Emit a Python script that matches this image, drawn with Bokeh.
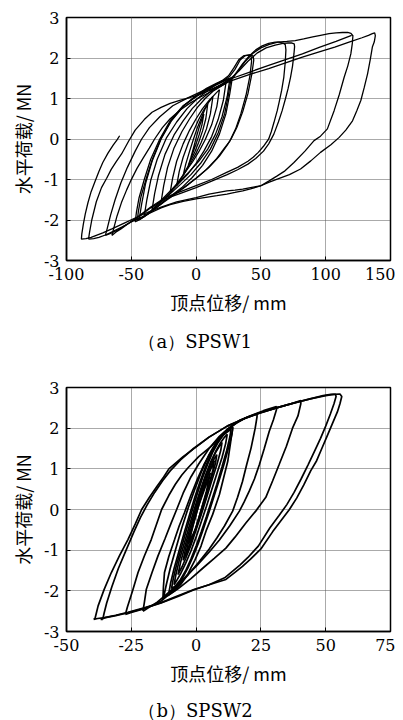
from bokeh.plotting import figure
from bokeh.models import Range1d, FixedTicker, PrintfTickFormatter
from bokeh.core.properties import value
from bokeh.layouts import column
from bokeh.embed import file_html
from bokeh.resources import INLINE

# ---------------- shared ----------------
Y_TICKS = [-3, -2, -1, 0, 1, 2, 3]
Y_LABEL = "水平荷载/ MN"
X_LABEL = "顶点位移/ mm"

# ---------------- (a) SPSW1 ----------------
A_X_TICKS = [-100, -50, 0, 50, 100, 150]
A_CAPTION = "（a）SPSW1"

A_L1_X = [-6, -4, -2, 0, 2, 4, 6, 4.5, 2.5, 0, -2, -4, -6]
A_L1_Y = [-0.65, -0.45, -0.22, 0.02, 0.25, 0.45, 0.62, 0.35, 0.12, -0.12, -0.3, -0.48, -0.65]
A_L2_X = [-10, -8, -5, -2, 1, 4, 7, 9, 7.5, 5, 2, -1, -4, -7, -10]
A_L2_Y = [-0.9, -0.62, -0.3, 0.0, 0.28, 0.52, 0.75, 0.87, 0.5, 0.2, -0.08, -0.32, -0.52, -0.72, -0.9]
A_L3_X = [-15, -13, -10, -6, -2, 2, 6, 10, 13, 11, 8, 4, 0, -4, -8, -12, -15]
A_L3_Y = [-1.15, -0.8, -0.45, -0.1, 0.2, 0.48, 0.72, 0.92, 1.05, 0.62, 0.25, -0.08, -0.35, -0.58, -0.8, -1.0, -1.15]
A_L4_X = [-20, -18, -15, -10, -5, 0, 5, 10, 15, 18, 16, 12, 7, 2, -3, -8, -13, -17, -20]
A_L4_Y = [-1.32, -0.95, -0.55, -0.12, 0.22, 0.5, 0.75, 0.95, 1.12, 1.22, 0.8, 0.35, -0.02, -0.32, -0.58, -0.8, -1.02, -1.2, -1.32]
A_L5_X = [-27, -25, -22, -17, -11, -5, 1, 7, 13, 19, 23, 21, 17, 12, 6, 0, -6, -12, -18, -23, -27]
A_L5_Y = [-1.55, -1.15, -0.7, -0.22, 0.18, 0.5, 0.78, 1.0, 1.18, 1.3, 1.38, 0.95, 0.48, 0.06, -0.3, -0.6, -0.85, -1.05, -1.25, -1.42, -1.55]
A_L6_X = [-34, -32, -29, -24, -17, -10, -3, 4, 11, 18, 23, 26, 24, 20, 15, 9, 2, -5, -12, -19, -26, -31, -34]
A_L6_Y = [-1.75, -1.35, -0.9, -0.38, 0.1, 0.45, 0.75, 0.98, 1.17, 1.32, 1.42, 1.47, 1.05, 0.55, 0.12, -0.25, -0.55, -0.8, -1.02, -1.25, -1.48, -1.65, -1.75]
A_L7_X = [-40, -38, -35, -30, -23, -15, -7, 1, 9, 16, 22, 27, 25, 22, 17, 11, 4, -4, -12, -20, -28, -35, -40]
A_L7_Y = [-1.9, -1.5, -1.02, -0.5, 0.02, 0.42, 0.75, 1.0, 1.2, 1.35, 1.45, 1.5, 1.1, 0.62, 0.15, -0.25, -0.58, -0.88, -1.12, -1.35, -1.58, -1.78, -1.9]
A_L7B_X = [-44, -42, -39, -34, -27, -19, -10, -1, 8, 16, 22, 28, 26, 23, 18, 12, 5, -3, -11, -20, -29, -37, -44]
A_L7B_Y = [-2.0, -1.6, -1.1, -0.55, 0.0, 0.45, 0.8, 1.05, 1.25, 1.38, 1.46, 1.52, 1.12, 0.62, 0.12, -0.3, -0.65, -0.95, -1.2, -1.42, -1.65, -1.85, -2.0]
A_L8A_X = [-47, -46, -44, -40, -35, -28, -20, -10, 0, 10, 20, 26, 30, 34, 38, 42, 44, 44.5, 43, 40, 36, 31.5, 27, 24, 18, 10, 2, -6, -15, -24, -32, -40, -47]
A_L8A_Y = [-2.05, -1.8, -1.45, -1.0, -0.5, 0.0, 0.45, 0.82, 1.05, 1.25, 1.42, 1.55, 1.72, 1.95, 2.06, 2.08, 2.05, 1.95, 1.6, 1.12, 0.68, 0.29, 0.0, -0.15, -0.42, -0.7, -0.92, -1.12, -1.32, -1.52, -1.72, -1.9, -2.05]
A_L8B_X = [-45.5, -44.5, -42.5, -38.5, -33.5, -27, -19, -9, 1, 11, 20, 25, 29, 33, 37, 41, 42.5, 42.8, 41.5, 38.5, 34.5, 30.5, 26, 22, 16, 8, 0, -8, -16, -25, -33, -40, -45.5]
A_L8B_Y = [-2.02, -1.78, -1.42, -0.98, -0.48, 0.02, 0.47, 0.84, 1.07, 1.27, 1.44, 1.56, 1.75, 1.96, 2.06, 2.07, 2.04, 1.92, 1.55, 1.08, 0.62, 0.25, -0.05, -0.22, -0.48, -0.75, -0.97, -1.17, -1.36, -1.56, -1.75, -1.92, -2.02]
A_L9A_X = [-65, -63.5, -61, -57.6, -53.5, -49.8, -45.5, -41, -36, -32, -26, -20, -12, -5, 3, 12, 20, 28, 32, 36, 41, 46, 51, 56, 61, 64, 67, 68.8, 69.3, 68.8, 67.7, 66, 64, 62.6, 60, 58, 56, 52, 48, 44, 40, 32, 24, 12, 0, -12, -24, -35, -45, -52, -58, -62, -65]
A_L9A_Y = [-2.38, -2.2, -1.9, -1.57, -1.25, -0.99, -0.72, -0.48, -0.22, 0.0, 0.28, 0.5, 0.72, 0.88, 1.03, 1.18, 1.32, 1.5, 1.68, 1.86, 2.05, 2.2, 2.3, 2.36, 2.39, 2.39, 2.37, 2.33, 2.2, 1.9, 1.53, 1.2, 0.9, 0.7, 0.4, 0.18, 0.0, -0.18, -0.33, -0.45, -0.55, -0.7, -0.82, -1.0, -1.15, -1.3, -1.45, -1.68, -1.92, -2.08, -2.22, -2.3, -2.38]
A_L9B_X = [-70, -68.5, -66, -62.5, -58, -53, -47, -42, -36, -28, -18, -6, 6, 17, 27, 33, 40, 47, 54, 61, 67, 71, 74, 75.7, 76, 75.5, 74.4, 72.9, 71, 69, 66.4, 63.5, 60, 56, 52, 46, 40, 32, 24, 12, 0, -12, -24, -35, -45, -53, -60, -66, -70]
A_L9B_Y = [-2.38, -2.2, -1.88, -1.5, -1.08, -0.7, -0.3, 0.0, 0.28, 0.55, 0.82, 1.02, 1.2, 1.36, 1.5, 1.68, 1.92, 2.12, 2.25, 2.32, 2.36, 2.37, 2.37, 2.35, 2.28, 2.1, 1.8, 1.53, 1.25, 1.0, 0.7, 0.42, 0.12, -0.12, -0.3, -0.48, -0.62, -0.76, -0.88, -1.04, -1.2, -1.34, -1.48, -1.7, -1.94, -2.1, -2.24, -2.33, -2.38]
A_L10A_X = [10, 20, 28, 33, 38, 44, 50, 56, 63, 70, 76.5, 83, 90, 96, 102.6, 108, 113, 117, 119.5, 121, 120.5, 119.4, 117, 114.3, 110.5, 106.5, 101.3, 96, 91, 84, 75.5, 68, 62.6, 56, 49.6, 42, 36, 30, 23.8, 16, 10, 0, -10, -20, -27, -35, -42, -50, -57, -64, -70, -75, -79, -83]
A_L10A_Y = [1.2, 1.35, 1.5, 1.7, 1.92, 2.12, 2.25, 2.33, 2.39, 2.41, 2.43, 2.47, 2.52, 2.56, 2.6, 2.62, 2.63, 2.63, 2.61, 2.55, 2.35, 2.1, 1.8, 1.53, 1.1, 0.7, 0.25, 0.07, -0.04, -0.3, -0.58, -0.8, -0.91, -1.04, -1.16, -1.23, -1.28, -1.32, -1.36, -1.4, -1.43, -1.48, -1.54, -1.62, -1.7, -1.82, -1.93, -2.05, -2.17, -2.28, -2.37, -2.43, -2.46, -2.47]
A_L10B_X = [-83, -82.2, -80.5, -77, -73, -69, -65.5, -61.5, -57.5, -52, -47, -40, -34, -27, -20, -12, -5, 3, 12, 20, 28, 42, 56, 69, 82, 95, 108, 120]
A_L10B_Y = [-2.47, -2.3, -2.0, -1.55, -1.2, -0.97, -0.75, -0.55, -0.37, -0.05, 0.22, 0.48, 0.66, 0.78, 0.88, 0.96, 1.02, 1.1, 1.22, 1.35, 1.5, 1.66, 1.82, 1.96, 2.1, 2.26, 2.41, 2.56]
A_L10C_X = [12, 20, 28, 42, 56, 69, 82, 95, 107, 118, 128, 133, 136, 137.8, 138.3, 137.5, 136, 134.3, 132.3, 129.8, 127.1, 124, 120.7, 115.5, 110.4, 104, 96, 88.5, 80.6, 72, 62.6, 56, 49.6, 42, 36, 30, 23.8, 10, 0, -15, -27, -36, -45, -55, -65, -72, -77, -81, -85, -88.5, -88.2, -87, -85.5, -83.5, -81, -78, -75, -72, -68, -64, -61, -59]
A_L10C_Y = [1.22, 1.33, 1.45, 1.6, 1.74, 1.88, 2.02, 2.15, 2.27, 2.39, 2.5, 2.56, 2.6, 2.62, 2.55, 2.4, 2.27, 1.95, 1.61, 1.28, 0.95, 0.7, 0.45, 0.22, 0.04, -0.14, -0.33, -0.54, -0.74, -0.88, -0.99, -1.07, -1.16, -1.2, -1.24, -1.26, -1.28, -1.36, -1.45, -1.55, -1.68, -1.79, -1.92, -2.07, -2.22, -2.32, -2.38, -2.43, -2.46, -2.47, -2.35, -2.1, -1.85, -1.58, -1.3, -1.05, -0.8, -0.58, -0.35, -0.15, -0.02, 0.08]

A_CURVES = [
    (A_L1_X, A_L1_Y), (A_L2_X, A_L2_Y), (A_L3_X, A_L3_Y), (A_L4_X, A_L4_Y),
    (A_L5_X, A_L5_Y), (A_L6_X, A_L6_Y), (A_L7_X, A_L7_Y), (A_L7B_X, A_L7B_Y),
    (A_L8A_X, A_L8A_Y), (A_L8B_X, A_L8B_Y), (A_L9A_X, A_L9A_Y), (A_L9B_X, A_L9B_Y),
    (A_L10A_X, A_L10A_Y), (A_L10B_X, A_L10B_Y), (A_L10C_X, A_L10C_Y),
]

# ---------------- (b) SPSW2 ----------------
B_X_TICKS = [-50, -25, 0, 25, 50, 75]
B_CAPTION = "（b）SPSW2"

B_O1_X = [-39, -38.5, -37.8, -35.5, -32.7, -29.5, -26.3, -23.5, -21, -18, -15, -12.5, -10.5, -5, -0.6, 5, 12, 18, 24.4, 31, 37.2, 44, 50, 53, 55.5, 56.2, 55.5, 54.5, 52.5, 50.5, 48.5, 46.5, 44.2, 41.5, 38.8, 36, 33, 29.5, 25, 21, 17.9, 14.5, 11.5, 5, -0.6, -7, -13.5, -20, -26.3, -31, -35.3, -38, -39.5, -39]
B_O1_Y = [-2.68, -2.55, -2.37, -1.97, -1.55, -1.13, -0.74, -0.36, 0.0, 0.3, 0.58, 0.8, 1.0, 1.3, 1.51, 1.78, 2.05, 2.22, 2.37, 2.5, 2.61, 2.72, 2.8, 2.83, 2.84, 2.78, 2.6, 2.4, 2.1, 1.8, 1.5, 1.2, 0.95, 0.6, 0.28, 0.0, -0.25, -0.55, -0.97, -1.22, -1.4, -1.57, -1.72, -1.85, -1.96, -2.12, -2.29, -2.42, -2.53, -2.6, -2.66, -2.68, -2.7, -2.68]
B_O2_X = [-36, -35.5, -34.5, -32.5, -30, -27, -24, -21.5, -19, -16, -13, -10, -6, -1, 5, 12, 18, 24.4, 31, 37.2, 44, 49, 52, 53.8, 54, 53.2, 51.8, 50, 48, 45.8, 43.2, 40.5, 37.8, 35, 32, 28.5, 24, 20, 17, 14, 11, 5, -1, -7, -13.5, -20, -26.3, -31, -35, -36.8, -36]
B_O2_Y = [-2.7, -2.55, -2.3, -1.9, -1.45, -1.0, -0.55, -0.2, 0.1, 0.42, 0.7, 0.95, 1.22, 1.5, 1.78, 2.05, 2.22, 2.37, 2.5, 2.61, 2.72, 2.8, 2.83, 2.83, 2.78, 2.6, 2.35, 2.05, 1.75, 1.45, 1.1, 0.75, 0.42, 0.12, -0.15, -0.45, -0.9, -1.18, -1.36, -1.52, -1.68, -1.85, -1.98, -2.14, -2.3, -2.43, -2.54, -2.61, -2.66, -2.7, -2.7]
B_L40_X = [-27.3, -26.5, -24.5, -22.4, -20, -17.3, -15.3, -13.3, -10.5, -8, -5.5, -3.2, 1, 5.8, 9, 12.2, 16, 20, 24.4, 31, 37.2, 40.4, 40.4, 39.3, 37.2, 34.8, 32, 29.5, 26.9, 23, 19.2, 15, 11.5, 7, 3, -2, -7, -11, -13.5, -17, -21, -25, -27.3]
B_L40_Y = [-2.58, -2.4, -2.0, -1.55, -1.15, -0.74, -0.37, 0.0, 0.35, 0.62, 0.85, 1.02, 1.3, 1.55, 1.78, 1.97, 2.15, 2.28, 2.38, 2.5, 2.61, 2.68, 2.6, 2.3, 2.0, 1.55, 1.1, 0.7, 0.3, -0.04, -0.33, -0.68, -0.95, -1.2, -1.42, -1.7, -1.95, -2.12, -2.25, -2.36, -2.46, -2.53, -2.58]
B_L31_X = [-20.5, -20, -19.2, -17, -14.7, -12, -9.6, -7.5, -5, -2, 1, 5, 9, 12.5, 17, 22, 26, 31, 31, 29.8, 28.2, 26.3, 24.4, 22.5, 20.5, 18.5, 16.7, 13, 9, 5, 0, -4, -8, -12, -15, -18, -20.5]
B_L31_Y = [-2.5, -2.3, -1.96, -1.55, -1.14, -0.72, -0.33, 0.0, 0.4, 0.8, 1.12, 1.5, 1.8, 2.0, 2.2, 2.33, 2.43, 2.53, 2.45, 2.2, 1.92, 1.5, 1.1, 0.75, 0.45, 0.18, -0.04, -0.4, -0.75, -1.05, -1.4, -1.65, -1.9, -2.12, -2.28, -2.4, -2.5]
B_L23_X = [-12.8, -12.6, -12.2, -10.5, -8.3, -6.5, -4.5, -2, 0.5, 3, 6, 9, 12, 15, 19, 23.5, 23.5, 22.8, 21.2, 19.5, 17.9, 16, 14.1, 11, 8, 5, 1, -3, -7, -10, -12.8]
B_L23_Y = [-2.2, -1.9, -1.55, -1.15, -0.74, -0.4, -0.08, 0.35, 0.75, 1.1, 1.45, 1.72, 1.95, 2.1, 2.25, 2.35, 2.28, 2.0, 1.51, 1.1, 0.69, 0.3, -0.04, -0.4, -0.7, -0.98, -1.3, -1.6, -1.88, -2.05, -2.2]
B_L14_X = [-12.5, -11.5, -10, -8, -5.5, -3, -0.5, 2, 5, 8, 11, 14, 14, 13.2, 12.2, 10.5, 9, 6.4, 4, 1.9, -0.5, -3.2, -6, -8.3, -10.5, -12.5]
B_L14_Y = [-2.15, -1.85, -1.45, -1.0, -0.45, 0.05, 0.5, 0.92, 1.35, 1.68, 1.9, 2.03, 1.95, 1.6, 1.18, 0.75, 0.37, -0.12, -0.5, -0.9, -1.25, -1.59, -1.85, -2.0, -2.1, -2.15]
B_T1_X = [-3, -1, 1, 3.5, 5.5, 4, 2, 0, -3]
B_T1_Y = [-0.85, -0.35, 0.1, 0.55, 0.9, 0.45, 0.0, -0.45, -0.85]
B_T2_X = [-5, -4, -2.5, -0.5, 1.5, 3.5, 5.5, 7, 8, 7.5, 6, 4, 2, 0, -2, -3.5, -5]
B_T2_Y = [-1.25, -0.95, -0.6, -0.15, 0.3, 0.7, 1.05, 1.25, 1.35, 1.15, 0.8, 0.38, -0.05, -0.45, -0.8, -1.05, -1.25]
B_T2B_X = [-4, -3, -1.5, 0.5, 2.5, 4.5, 6, 7, 6.5, 5, 3, 1, -1, -2.5, -4]
B_T2B_Y = [-1.1, -0.82, -0.45, 0.0, 0.42, 0.82, 1.05, 1.2, 0.98, 0.62, 0.2, -0.22, -0.62, -0.88, -1.1]
B_T3_X = [-7, -6, -4.5, -2.5, -0.5, 1.5, 3.5, 5.5, 7.5, 9, 10, 9.5, 8, 6, 4, 2, 0, -2, -4, -5.5, -7]
B_T3_Y = [-1.6, -1.3, -0.95, -0.5, -0.05, 0.38, 0.78, 1.12, 1.4, 1.56, 1.65, 1.45, 1.1, 0.7, 0.28, -0.12, -0.5, -0.88, -1.2, -1.42, -1.6]
B_T4_X = [-8.5, -7.8, -6.5, -4.5, -2.5, -0.5, 1.5, 3.5, 5.5, 7.5, 9.5, 11, 12, 11.4, 10, 8, 6, 4, 2, 0, -2, -4, -6, -7.5, -8.5]
B_T4_Y = [-1.85, -1.6, -1.25, -0.82, -0.38, 0.05, 0.45, 0.82, 1.15, 1.42, 1.65, 1.78, 1.85, 1.62, 1.28, 0.88, 0.48, 0.08, -0.3, -0.68, -1.02, -1.32, -1.58, -1.75, -1.85]
B_T5_X = [-9.5, -8.8, -7.5, -5.5, -3.5, -1.5, 0.5, 2.5, 4.5, 6.5, 8.5, 10.5, 12.5, 13.5, 13, 11.8, 10, 8, 6, 4, 2, 0, -2, -4, -6, -8, -9.5]
B_T5_Y = [-1.95, -1.7, -1.35, -0.9, -0.45, -0.02, 0.4, 0.78, 1.12, 1.42, 1.65, 1.83, 1.93, 1.97, 1.78, 1.45, 1.05, 0.62, 0.22, -0.17, -0.55, -0.9, -1.22, -1.5, -1.72, -1.88, -1.95]
B_T6_X = [-10.5, -9.8, -8.5, -6.5, -4.5, -2.5, -0.5, 1.5, 3.5, 5.5, 7.5, 9.5, 11.5, 13.2, 14.2, 13.8, 12.5, 10.8, 8.8, 6.8, 4.8, 2.8, 0.8, -1.2, -3.2, -5.2, -7.2, -9, -10.5]
B_T6_Y = [-2.05, -1.8, -1.45, -1.0, -0.55, -0.12, 0.3, 0.68, 1.03, 1.34, 1.6, 1.8, 1.93, 2.0, 2.02, 1.85, 1.52, 1.12, 0.7, 0.3, -0.1, -0.48, -0.84, -1.16, -1.44, -1.68, -1.87, -1.98, -2.05]

B_CURVES = [
    (B_O1_X, B_O1_Y), (B_O2_X, B_O2_Y), (B_L40_X, B_L40_Y), (B_L31_X, B_L31_Y),
    (B_L23_X, B_L23_Y), (B_L14_X, B_L14_Y), (B_T1_X, B_T1_Y), (B_T2_X, B_T2_Y),
    (B_T2B_X, B_T2B_Y), (B_T3_X, B_T3_Y), (B_T4_X, B_T4_Y), (B_T5_X, B_T5_Y),
    (B_T6_X, B_T6_Y),
]

TICK_FONT = "DejaVu Serif"
CJK_FONT = "Noto Sans CJK SC"
CAP_FONT = "DejaVu Serif"


def style_axis(ax, ticks, label_standoff):
    ax.ticker = FixedTicker(ticks=ticks)
    ax.formatter = PrintfTickFormatter(format="%d")
    ax.major_tick_in = 4
    ax.major_tick_out = 0
    ax.minor_tick_in = 0
    ax.minor_tick_out = 0
    ax.axis_line_color = "black"
    ax.axis_line_width = 1.5
    ax.major_tick_line_color = "black"
    ax.major_tick_line_width = 1
    ax.major_label_text_font = TICK_FONT
    ax.major_label_text_font_size = "16px"
    ax.major_label_text_color = "black"
    ax.major_label_standoff = 7
    ax.axis_label_text_font = CJK_FONT
    ax.axis_label_text_font_size = "18px"
    ax.axis_label_text_font_style = "normal"
    ax.axis_label_text_color = "black"
    ax.axis_label_standoff = label_standoff


def make_fig(xr, xticks, curves, lw, height, top, bottom):
    p = figure(width=395, height=height, x_range=Range1d(*xr), y_range=Range1d(-3, 3),
               output_backend="svg", toolbar_location=None,
               min_border_left=66, min_border_right=5,
               min_border_top=top, min_border_bottom=bottom)
    p.outline_line_color = "black"
    p.outline_line_width = 1.5
    p.background_fill_color = "white"
    p.border_fill_color = "white"
    for xs, ys in curves:
        p.line(xs, ys, line_color="black", line_width=lw)
    p.xgrid.ticker = FixedTicker(ticks=xticks)
    p.ygrid.ticker = FixedTicker(ticks=Y_TICKS)
    for g in (p.xgrid, p.ygrid):
        g.grid_line_color = "#555555"
        g.grid_line_dash = "1 1"
        g.grid_line_width = 1
    p.xaxis.axis_label = X_LABEL
    p.yaxis.axis_label = Y_LABEL
    style_axis(p.xaxis[0], xticks, 6)
    style_axis(p.yaxis[0], Y_TICKS, 5)
    return p


def make_caption(text, height, ypos):
    c = figure(width=395, height=height, x_range=Range1d(0, 1), y_range=Range1d(0, 1),
               output_backend="svg", toolbar_location=None,
               x_axis_type=None, y_axis_type=None,
               min_border_left=0, min_border_right=0, min_border_top=0, min_border_bottom=0)
    c.outline_line_color = None
    c.xgrid.visible = False
    c.ygrid.visible = False
    c.text(x=[0.222], y=[ypos], text=[text], text_align="left", text_baseline="middle",
           text_font=value(CAP_FONT), text_font_size="18px", text_color="black")
    return c


p1 = make_fig((-100, 150), A_X_TICKS, A_CURVES, 1.3, 322, 17, 62)
c1 = make_caption(A_CAPTION, 38, 0.5)
p2 = make_fig((-50, 75), B_X_TICKS, B_CURVES, 1.7, 333, 27, 62)
c2 = make_caption(B_CAPTION, 27, 0.38)

layout = column(p1, c1, p2, c2)
open("out.html", "w").write(file_html(layout, INLINE))
